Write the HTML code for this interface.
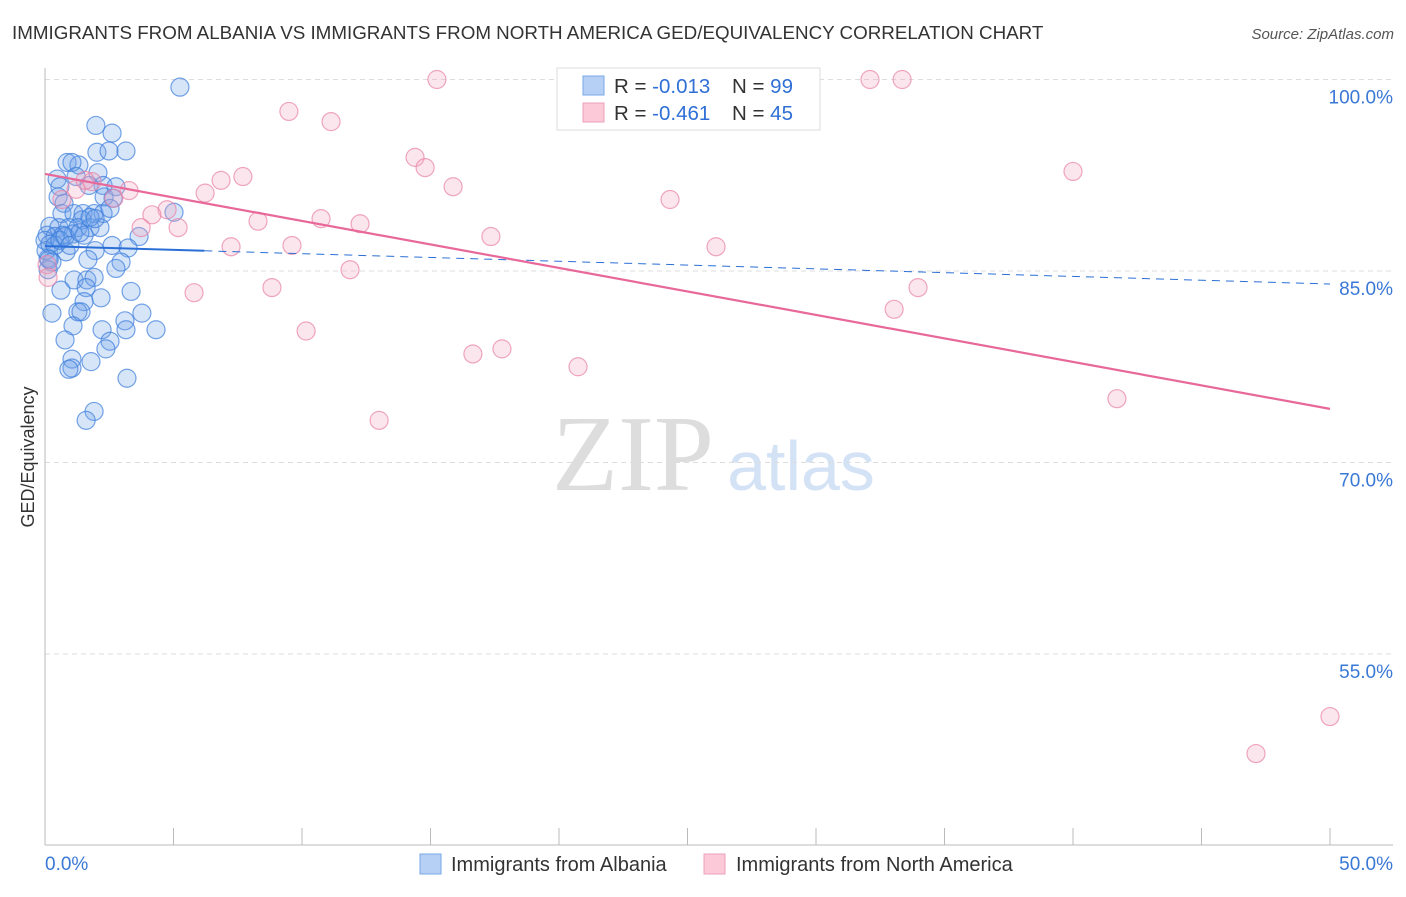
<!DOCTYPE html>
<html><head><meta charset="utf-8"><style>
body{margin:0;background:#fff;font-family:"Liberation Sans",sans-serif}
svg text{font-family:"Liberation Sans",sans-serif}
</style></head><body>
<svg id="c" width="1406" height="892" xmlns="http://www.w3.org/2000/svg">
<text x="12" y="39" font-size="18.8" fill="#333">IMMIGRANTS FROM ALBANIA VS IMMIGRANTS FROM NORTH AMERICA GED/EQUIVALENCY CORRELATION CHART</text>
<text x="1394" y="39" font-size="15" fill="#555" font-style="italic" text-anchor="end">Source: ZipAtlas.com</text>
<text x="633" y="490" font-size="108" fill="#ddd" text-anchor="middle" style="font-family:'Liberation Serif',serif">ZIP</text>
<text x="801" y="490" font-size="70" fill="#d4e2f5" text-anchor="middle">atlas</text>
<text transform="translate(34,457) rotate(-90)" font-size="18" fill="#333" text-anchor="middle">GED/Equivalency</text>
<g id="grid"></g><g id="marks"></g>
<g>
<rect x="557" y="68" width="263" height="62" fill="#fff" stroke="#ddd"/>
<rect x="583" y="76" width="21" height="19" fill="#b6d0f5" stroke="#7aa8e8"/>
<rect x="583" y="103" width="21" height="19" fill="#fbc9d8" stroke="#eea0b8"/>
<text x="614" y="93" font-size="20.5" fill="#333">R = <tspan fill="#2f6fd6">-0.013</tspan><tspan x="732">N = </tspan><tspan fill="#2f6fd6">99</tspan></text>
<text x="614" y="120" font-size="20.5" fill="#333">R = <tspan fill="#2f6fd6">-0.461</tspan><tspan x="732">N = </tspan><tspan fill="#2f6fd6">45</tspan></text>
</g>
<g>
<rect x="420" y="854" width="21" height="20" fill="#b6d0f5" stroke="#7aa8e8"/>
<text x="451" y="871" font-size="20" fill="#333">Immigrants from Albania</text>
<rect x="704" y="854" width="21" height="20" fill="#fbc9d8" stroke="#eea0b8"/>
<text x="736" y="871" font-size="20" fill="#333">Immigrants from North America</text>
</g>
</svg>
<script>
const yTicks=[100,85,70,55];
const yTickLabels=["100.0%","85.0%","70.0%","55.0%"];
const blueX=[5.25,1.98,2.61,2.02,2.49,3.15,0.86,1.32,1.05,2.06,0.47,1.21,0.58,2.26,1.71,2.76,0.51,2.30,2.65,0.74,5.02,0.66,1.13,1.48,1.91,2.26,1.44,0.19,0.54,0.93,1.28,1.75,2.14,0.08,0.39,0.70,1.09,1.52,2.61,3.66,3.23,1.95,0.82,0.12,0.27,1.67,2.96,2.76,1.13,1.63,1.91,0.62,1.60,3.35,2.18,1.52,0.27,1.28,1.40,3.77,3.11,1.09,2.22,3.15,4.32,0.78,2.53,2.37,1.05,1.79,1.05,0.93,3.19,1.91,1.60,0,0.04,0.19,0.39,0.58,0.78,0.97,1.36,1.75,1.95,2.53,0.12,0.16];
const blueY=[99.4,96.4,95.8,94.3,94.4,94.4,93.5,93.3,93.5,92.7,92.2,92.4,91.6,91.7,91.7,91.6,90.8,90.8,90.7,90.3,89.6,89.5,89.5,89.5,89.5,89.5,89.0,88.5,88.4,88.4,88.4,88.4,88.4,87.8,87.7,87.8,87.9,87.8,87.0,87.7,86.8,86.6,86.5,86.0,85.7,85.9,85.7,85.2,84.3,84.3,84.5,83.5,83.7,83.4,82.9,82.6,81.7,81.8,81.8,81.7,81.1,80.7,80.4,80.4,80.4,79.6,79.5,78.9,78.1,77.9,77.4,77.3,76.6,74.0,73.3,87.4,86.6,87.1,87.0,87.4,87.7,87.0,88.0,89.2,89.1,89.9,85.1,85.9];
const pinkX=[15.25,32.1,33.35,9.49,11.13,14.4,14.79,40.0,6.85,7.70,1.83,3.27,15.88,6.23,1.21,2.68,24.32,4.75,4.16,10.74,8.29,12.26,5.18,3.74,17.35,7.24,9.61,26.11,11.87,0.08,0.12,8.83,5.80,33.97,33.04,10.16,17.78,16.65,20.74,41.71,13.0,50.0,47.12,0.66,1.56];
const pinkY=[100,100,100,97.5,96.7,93.9,93.1,92.8,92.1,92.4,92.0,91.3,91.6,91.1,91.4,90.7,90.6,89.8,89.4,89.1,88.9,88.7,88.4,88.4,87.7,86.9,87.0,86.9,85.1,85.5,84.5,83.7,83.3,83.7,82.0,80.3,78.9,78.5,77.5,75.0,73.3,50.1,47.2,90.6,92.1];
const blueTrend=[86.95,83.98];
const pinkTrend=[92.6,74.2];
const X0=45,X1=1330,YTOP=79.5,PX_PER=191.5/15;
const sx=v=>X0+(X1-X0)*v/50;
const sy=v=>YTOP+(100-v)*PX_PER;
const NS="http://www.w3.org/2000/svg";
const grid=document.getElementById('grid'),marks=document.getElementById('marks');
function mk(tag,attrs,parent){const e=document.createElementNS(NS,tag);for(const k in attrs)e.setAttribute(k,attrs[k]);parent.appendChild(e);return e;}
yTicks.forEach((t,i)=>{
 const l=mk('line',{x1:45,x2:1393,y1:sy(t),y2:sy(t),stroke:'#ddd','stroke-dasharray':'5,4'},grid);
 
 
 const tx=mk('text',{x:1393,y:sy(t)+24,'font-size':19,fill:'#3a78d6','text-anchor':'end'},grid);
 tx.textContent=yTickLabels[i];
 
 
});
const ax=mk('line',{x1:45,x2:1393,y1:845,y2:845,stroke:'#bbb'},grid);


const ay=mk('line',{x1:45,x2:45,y1:68,y2:845,stroke:'#bbb'},grid);


for(let i=0;i<=10;i++){
 const t=mk('line',{x1:sx(i*5),x2:sx(i*5),y1:828,y2:845,stroke:'#bbb'},grid);
 
 
}
const xl0=mk('text',{x:45,y:870,'font-size':19,fill:'#3a78d6'},grid);xl0.textContent='0.0%';


const xl1=mk('text',{x:1393,y:870,'font-size':19,fill:'#3a78d6','text-anchor':'end'},grid);xl1.textContent='50.0%';


blueX.forEach((x,i)=>{
 const c=mk('circle',{cx:sx(x),cy:sy(blueY[i]),r:9,fill:'rgba(110,160,235,0.28)',stroke:'rgba(60,125,220,0.7)','stroke-width':1.2},marks);
 
 
});
pinkX.forEach((x,i)=>{
 const c=mk('circle',{cx:sx(x),cy:sy(pinkY[i]),r:9,fill:'rgba(245,165,190,0.28)',stroke:'rgba(232,130,165,0.7)','stroke-width':1.2},marks);
 
 
});
const bAt=x=>blueTrend[0]+(blueTrend[1]-blueTrend[0])*x/50;
const b1=mk('line',{x1:sx(0),y1:sy(bAt(0)),x2:sx(6.2),y2:sy(bAt(6.2)),stroke:'#2a6fd6','stroke-width':2},marks);


const b2=mk('line',{x1:sx(6.2),y1:sy(bAt(6.2)),x2:sx(50),y2:sy(bAt(50)),stroke:'#2a6fd6','stroke-width':1,'stroke-dasharray':'8,6'},marks);


const p1=mk('line',{x1:sx(0),y1:sy(pinkTrend[0]),x2:sx(50),y2:sy(pinkTrend[1]),stroke:'#e8689a','stroke-width':2.2},marks);


</script>
</body></html>
